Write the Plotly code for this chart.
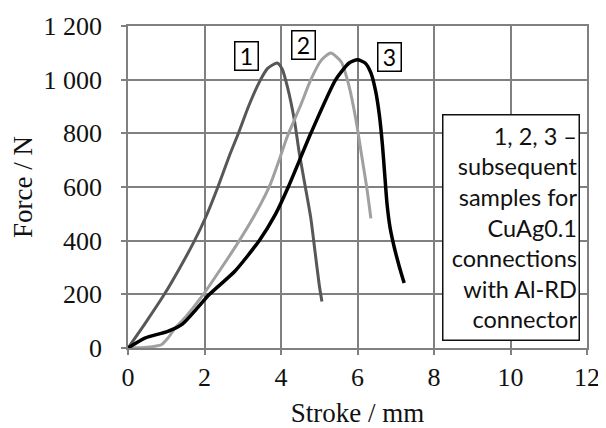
import plotly.graph_objects as go

# Curve 1 (dark grey)
x1 = [0, 0.44, 0.95, 1.32, 1.74, 2.04, 2.35, 2.66, 2.90, 3.15, 3.43, 3.65, 3.90, 4.03, 4.17, 4.35, 4.48, 4.63, 4.78, 4.89, 5.00, 5.07]
y1 = [0, 90, 200, 290, 400, 490, 600, 720, 805, 900, 990, 1042, 1062, 1040, 972, 849, 725, 605, 483, 359, 235, 173]
# Curve 2 (light grey)
x2 = [0, 0.5, 0.87, 1.05, 1.22, 1.5, 1.97, 2.45, 2.91, 3.33, 3.72, 3.98, 4.17, 4.50, 4.78, 5.05, 5.30, 5.58, 5.78, 5.96, 6.10, 6.24, 6.35]
y2 = [0, 3, 12, 38, 72, 115, 200, 300, 400, 500, 610, 712, 790, 900, 1000, 1072, 1099, 1065, 975, 850, 725, 600, 483]
# Curve 3 (black)
x3 = [0, 0.44, 1.04, 1.43, 2.13, 2.80, 3.43, 3.85, 4.19, 4.78, 5.43, 5.78, 6.00, 6.20, 6.35, 6.47, 6.57, 6.65, 6.71, 6.77, 6.85, 6.97, 7.09, 7.22]
y3 = [0, 37, 62, 90, 200, 287, 400, 497, 600, 800, 1000, 1062, 1074, 1062, 1025, 960, 870, 760, 650, 540, 450, 370, 305, 242]

x_ticks = [0, 2, 4, 6, 8, 10, 12]
y_ticks = [0, 200, 400, 600, 800, 1000, 1200]
y_tick_labels = ["0", "200", "400", "600", "800", "1\u00a0000", "1\u00a0200"]

curve_labels = ["1", "2", "3"]
curve_label_x = [3.11, 4.58, 6.84]
curve_label_y = [1087, 1128, 1086]

note_lines = ["1, 2, 3 \u2013", "subsequent", "samples for", "CuAg0.1", "connections", "with Al-RD", "connector"]

fig = go.Figure()
for xs, ys, col, w in [(x1, y1, "#575757", 3), (x2, y2, "#a0a0a0", 3), (x3, y3, "#000000", 3.5)]:
    fig.add_trace(go.Scatter(x=xs, y=ys, mode="lines",
                             line=dict(color=col, width=w, shape="spline", smoothing=0.6),
                             showlegend=False, hoverinfo="skip"))

for t, xx, yy in zip(curve_labels, curve_label_x, curve_label_y):
    fig.add_annotation(x=xx, y=yy, xref="x", yref="y", text=t, showarrow=False,
                       font=dict(family="Lato", size=23, color="#000"),
                       bordercolor="#000", borderwidth=1.5, borderpad=0,
                       bgcolor="white", width=22, height=27)

fig.add_annotation(x=8.2, y=873, xref="x", yref="y", xanchor="left", yanchor="top",
                   text="<br>".join(note_lines), showarrow=False, align="right",
                   font=dict(family="Lato", size=23.5, color="#111"),
                   bordercolor="#111", borderwidth=1.5, borderpad=1,
                   bgcolor="white", width=133, height=222)

axis_common = dict(showgrid=True, gridcolor="#808080", gridwidth=1.5,
                   showline=True, linecolor="#808080", linewidth=1.5, mirror=True,
                   ticks="outside", ticklen=5, tickcolor="#808080", tickwidth=1.5,
                   zeroline=False, automargin=False)

fig.update_xaxes(range=[0, 12], tickvals=x_ticks,
                 tickfont=dict(family="Liberation Serif", size=26, color="#111"),
                 title=dict(text="Stroke / mm", font=dict(family="Liberation Serif", size=27, color="#111"), standoff=15),
                 ticklabelstandoff=0, **axis_common)
fig.update_yaxes(range=[0, 1200], tickvals=y_ticks, ticktext=y_tick_labels,
                 tickfont=dict(family="Liberation Serif", size=26, color="#111"),
                 title=dict(text="Force / N", font=dict(family="Liberation Serif", size=27, color="#111"), standoff=9),
                 ticklabelstandoff=14, **axis_common)

# page body adds an 8px offset; compensate so the plot lands where the reference has it
fig.update_layout(width=598, height=420, margin=dict(l=120, r=19, t=18, b=80),
                  plot_bgcolor="white", paper_bgcolor="white")

fig.write_html("out.html")
